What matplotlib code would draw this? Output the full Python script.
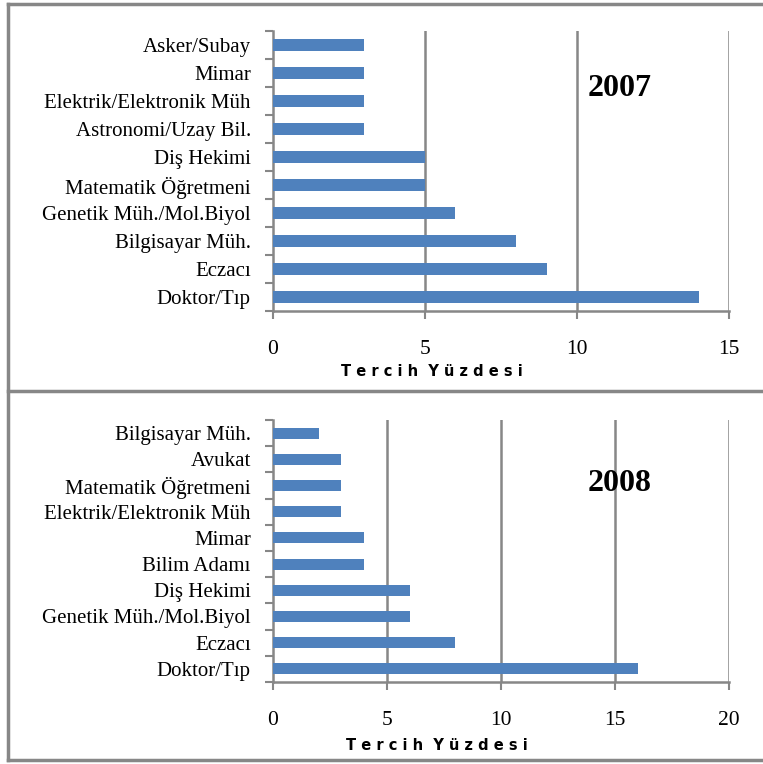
import numpy as np
import matplotlib.pyplot as plt
from matplotlib.lines import Line2D

# dati 2007
meslek07 = ['Doktor/Tıp', 'Eczacı', 'Bilgisayar Müh.', 'Genetik Müh./Mol.Biyol',
            'Matematik Öğretmeni', 'Diş Hekimi', 'Astronomi/Uzay Bil.',
            'Elektrik/Elektronik Müh', 'Mimar', 'Asker/Subay']
yuzde07 = [14, 9, 8, 6, 5, 5, 3, 3, 3, 3]

# dati 2008
meslek08 = ['Doktor/Tıp', 'Eczacı', 'Genetik Müh./Mol.Biyol', 'Diş Hekimi',
            'Bilim Adamı', 'Mimar', 'Elektrik/Elektronik Müh',
            'Matematik Öğretmeni', 'Avukat', 'Bilgisayar Müh.']
yuzde08 = [16, 8, 6, 6, 4, 4, 3, 3, 3, 2]

W, H = 763, 764
fig = plt.figure(figsize=(W/100, H/100), dpi=100)
plt.rcParams['font.family'] = ['Liberation Serif', 'DejaVu Serif']

grigio = '#878787'
blu = '#4F81BD'

def pannello(box, nomi, valori, xmax, anno, anno_y, label_x, label_y):
    x0, y0, x1, y1 = box  # pixel, top-left origin
    ax = fig.add_axes([x0/W, 1 - y1/H, (x1-x0)/W, (y1-y0)/H])
    pos = np.arange(len(nomi))
    ax.barh(pos, valori, height=0.42, color=blu, zorder=3)
    ax.set_ylim(-0.5, len(nomi)-0.5)
    ax.set_xlim(0, xmax)
    ax.set_xticks(np.arange(0, xmax+1, 5))
    ax.set_yticks(pos)
    ax.set_yticklabels(nomi, fontsize=15)
    ax.set_yticks(np.arange(-0.5, len(nomi)), minor=True)
    ax.tick_params(axis='y', which='major', length=0, pad=16)
    ax.tick_params(axis='y', which='minor', length=6, width=1.5, color=grigio)
    ax.tick_params(axis='x', length=6, width=1.5, color=grigio, pad=15, labelsize=15.5)
    for s in ['top', 'right']:
        ax.spines[s].set_visible(False)
    for s in ['left', 'bottom']:
        ax.spines[s].set_color(grigio)
        ax.spines[s].set_linewidth(1.8)
    for v in np.arange(5, xmax+1, 5):
        ax.axvline(v, color=grigio, lw=1.8, zorder=1)
    fig.text(620/W, 1 - anno_y/H, anno, fontsize=23, fontweight='bold',
             ha='center', va='center')
    fig.text(label_x/W, 1 - label_y/H, 'T e r c i h  Y ü z d e s i', fontsize=10.5,
             fontweight='bold', family='DejaVu Sans', ha='center', va='center')
    return ax

pannello((273, 31, 729, 311), meslek07, yuzde07, 15, '2007', 88, 432, 371)
pannello((273, 420, 729, 682), meslek08, yuzde08, 20, '2008', 484, 437, 745)

# cornice esterna
for xs, ys in [([8, 763], [4, 4]), ([8, 763], [391, 391]), ([8, 763], [760, 760]),
               ([8, 8], [4, 760])]:
    fig.add_artist(Line2D([x/W for x in xs], [1 - y/H for y in ys],
                          color=grigio, lw=2.5))

fig.savefig('out.png', dpi=100)
